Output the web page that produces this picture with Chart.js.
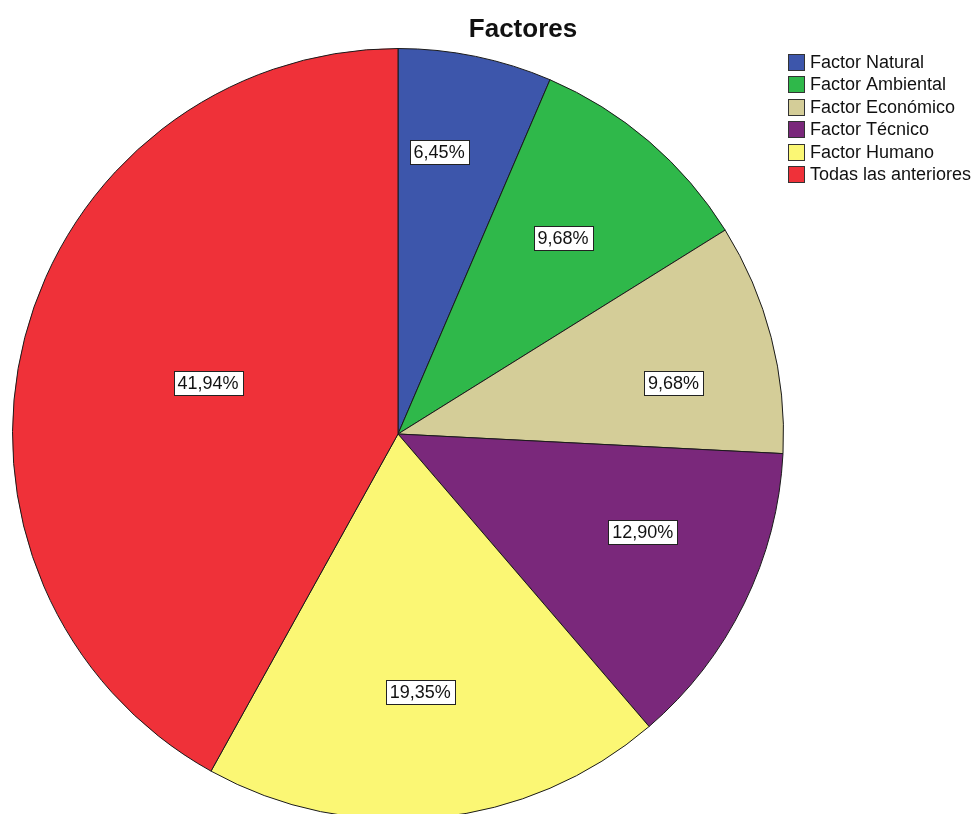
<!DOCTYPE html>
<html>
<head>
<meta charset="utf-8">
<script src="https://cdn.jsdelivr.net/npm/chart.js@4.4.1/dist/chart.umd.min.js"></script>
<style>
  html, body { margin: 0; padding: 0; background: #fff; overflow: hidden; }
  #wrap { width: 977px; height: 830px; }
</style>
</head>
<body>
<div id="wrap"><canvas id="myChart"></canvas></div>
<script>
const labels = ['Factor Natural', 'Factor Ambiental', 'Factor Económico', 'Factor Técnico', 'Factor Humano', 'Todas las anteriores'];
const percents = [6.45, 9.68, 9.68, 12.90, 19.35, 41.94];
const colors = ['#3d56ab', '#2fb84a', '#d4cd98', '#7a287b', '#fbf774', '#ef3139'];
// value boxes: distance out (fraction of radius) and nudge from the slice middle (degrees)
const labelRadius = [0.738, 0.664, 0.727, 0.684, 0.673, 0.51];
const labelNudge = [-3.3, -0.5, 4.0, -4.3, 0.9, 0.5];

const FONT = '"Liberation Sans", Arial, sans-serif';

const decorations = {
    id: 'decorations',
    afterDatasetsDraw(chart) {
        const ctx = chart.ctx;
        const meta = chart.getDatasetMeta(0);
        ctx.save();
        ctx.font = '18px ' + FONT;
        ctx.textAlign = 'center';
        ctx.textBaseline = 'middle';
        meta.data.forEach((arc, i) => {
            const mid = (arc.startAngle + arc.endAngle) / 2 + labelNudge[i] * Math.PI / 180;
            const r = arc.outerRadius * labelRadius[i];
            const x = arc.x + Math.cos(mid) * r;
            const y = arc.y + Math.sin(mid) * r;
            const text = percents[i].toFixed(2).replace('.', ',') + '%';
            const w = Math.round(ctx.measureText(text).width + 8);
            const h = 24;
            const bx = Math.round(x - w / 2) + 0.5;
            const by = Math.round(y - h / 2) + 0.5;
            ctx.fillStyle = '#fff';
            ctx.fillRect(bx, by, w, h);
            ctx.strokeStyle = '#222';
            ctx.lineWidth = 1;
            ctx.strokeRect(bx, by, w, h);
            ctx.fillStyle = '#111';
            ctx.fillText(text, x, y + 1);
        });

        // title
        ctx.font = 'bold 26px ' + FONT;
        ctx.fillStyle = '#111';
        ctx.fillText('Factores', 523, 30);

        // legend
        ctx.font = '18px ' + FONT;
        ctx.textAlign = 'left';
        labels.forEach((lab, i) => {
            const y = 62 + i * 22.4;
            ctx.fillStyle = colors[i];
            ctx.fillRect(788.5, Math.round(y - 8) + 0.5, 16, 16);
            ctx.strokeStyle = '#333';
            ctx.strokeRect(788.5, Math.round(y - 8) + 0.5, 16, 16);
            ctx.fillStyle = '#111';
            ctx.fillText(lab, 810, y + 1);
        });
        ctx.restore();
    }
};

new Chart(document.getElementById('myChart'), {
    type: 'pie',
    data: {
        labels: labels,
        datasets: [{
            data: percents,
            backgroundColor: colors,
            borderColor: '#1a1a1a',
            borderWidth: 1
        }]
    },
    options: {
        responsive: true,
        maintainAspectRatio: false,
        animation: false,
        layout: {
            padding: { left: 12, right: 193, top: 48, bottom: 10 }
        },
        plugins: {
            legend: { display: false },
            title: { display: false },
            tooltip: { enabled: false }
        }
    },
    plugins: [decorations]
});
</script>
</body>
</html>
